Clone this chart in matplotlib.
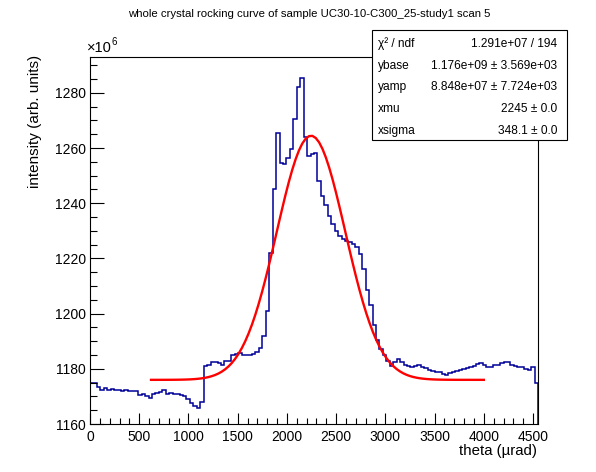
# ROCKING CURVE WITH GAUSSIAN FIT

import numpy as np
import matplotlib

matplotlib.use("Agg")
import matplotlib.pyplot as plt
from matplotlib.patches import Rectangle
from matplotlib.ticker import MultipleLocator

plt.rcParams["font.family"] = ["Liberation Sans", "DejaVu Sans"]

# histogram: bins of 35 urad from 0 to 4550, contents in units of 1e6
bin_width = 35
counts = [
    1174.7, 1175.0, 1173.3, 1172.5, 1173.0, 1172.5, 1172.8, 1172.3, 1172.5, 1172.0,
    1172.3, 1172.0, 1172.0, 1171.8, 1170.5, 1170.8, 1170.0, 1169.5, 1171.0, 1171.3,
    1171.5, 1172.2, 1171.0, 1171.3, 1171.0, 1170.8, 1170.5, 1170.0, 1169.0, 1167.5,
    1166.5, 1165.7, 1168.0, 1181.0, 1181.5, 1182.3, 1182.5, 1182.0, 1181.3, 1182.8,
    1183.0, 1185.0, 1185.5, 1185.7, 1185.0, 1184.9, 1184.9, 1185.3, 1186.0, 1187.5,
    1192.0, 1201.0, 1222.0, 1245.0, 1265.3, 1254.5, 1254.3, 1256.5, 1259.5, 1270.5,
    1282.3, 1285.5, 1264.0, 1257.0, 1257.8, 1258.3, 1248.0, 1242.5, 1239.5, 1235.5,
    1232.5, 1230.0, 1228.0, 1227.0, 1226.5, 1226.0, 1225.3, 1224.0, 1221.5, 1216.0,
    1208.5, 1203.0, 1196.0, 1190.5, 1187.0, 1185.0, 1183.0, 1181.2, 1182.5, 1183.5,
    1182.3, 1181.5, 1181.0, 1180.8, 1181.2, 1181.4, 1180.5, 1180.2, 1179.6, 1179.2,
    1179.0, 1178.8, 1178.2, 1177.8, 1178.4, 1178.8, 1179.2, 1179.6, 1180.0, 1180.2,
    1180.5, 1181.2, 1181.8, 1182.0, 1181.5, 1180.5, 1180.7, 1181.3, 1181.5, 1182.2,
    1182.5, 1182.3, 1181.3, 1181.0, 1180.8, 1180.5, 1179.8, 1179.6, 1180.5, 1175.0,
]

# fit parameters (from the stats box) and fit range
ybase = 1.176e9
yamp = 8.848e7
xmu = 2245.0
xsigma = 348.1
fit_range = (620, 4000)

stat_names = ["χ² / ndf", "ybase", "yamp", "xmu", "xsigma"]
stat_values = [
    "1.291e+07 / 194",
    "1.176e+09 ± 3.569e+03",
    "8.848e+07 ± 7.724e+03",
    "2245 ± 0.0",
    "348.1 ± 0.0",
]

title = "whole crystal rocking curve of sample UC30-10-C300_25-study1 scan 5"

edges = np.arange(len(counts) + 1) * bin_width
x_fit = np.linspace(fit_range[0], fit_range[1], 100)
y_fit = (ybase + yamp * np.exp(-0.5 * ((x_fit - xmu) / xsigma) ** 2)) / 1e6

fig = plt.figure(figsize=(5.96, 4.72), dpi=100)
ax = fig.add_axes([90 / 596, 1 - 424 / 472, 448 / 596, 367 / 472])

ax.stairs(counts, edges, color="#000099", linewidth=1.1)
ax.plot(x_fit, y_fit, color="red", linewidth=1.7)

ax.set_xlim(0, 4550)
ax.set_ylim(1160, 1293)

ax.xaxis.set_major_locator(MultipleLocator(500))
ax.xaxis.set_minor_locator(MultipleLocator(100))
ax.yaxis.set_major_locator(MultipleLocator(20))
ax.yaxis.set_minor_locator(MultipleLocator(5))
ax.tick_params(axis="both", which="both", direction="in", labelsize=10,
               width=0.8, top=False, right=False)
ax.tick_params(axis="x", which="major", length=8, pad=4)
ax.tick_params(axis="x", which="minor", length=4)
ax.tick_params(axis="y", which="major", length=10, pad=3)
ax.tick_params(axis="y", which="minor", length=5)
for s in ax.spines.values():
    s.set_linewidth(0.8)

fig.text(309 / 596, 1 - 14 / 472, title, ha="center", va="center", fontsize=8.2)
fig.text(87 / 596, 1 - 48 / 472, "×10", ha="left", va="center", fontsize=10.5)
fig.text(111 / 596, 1 - 42 / 472, "6", ha="left", va="center", fontsize=7)
fig.text(35 / 596, 1 - 55 / 472, "intensity (arb. units)", rotation=90,
         ha="center", va="top", fontsize=11)
fig.text(537 / 596, 1 - 451 / 472, "theta (µrad)", ha="right", va="center",
         fontsize=10.8)

# stats box
fig.patches.append(Rectangle((372 / 596, 1 - 140 / 472), 195 / 596, 110 / 472,
                             transform=fig.transFigure, facecolor="white",
                             edgecolor="black", linewidth=0.8))
for i, (name, val) in enumerate(zip(stat_names, stat_values)):
    y = 1 - (44 + i * 21.7) / 472
    fig.text(378 / 596, y, name, ha="left", va="center", fontsize=8.6)
    fig.text(557 / 596, y, val, ha="right", va="center", fontsize=8.6)

fig.savefig("out.png", dpi=100)
